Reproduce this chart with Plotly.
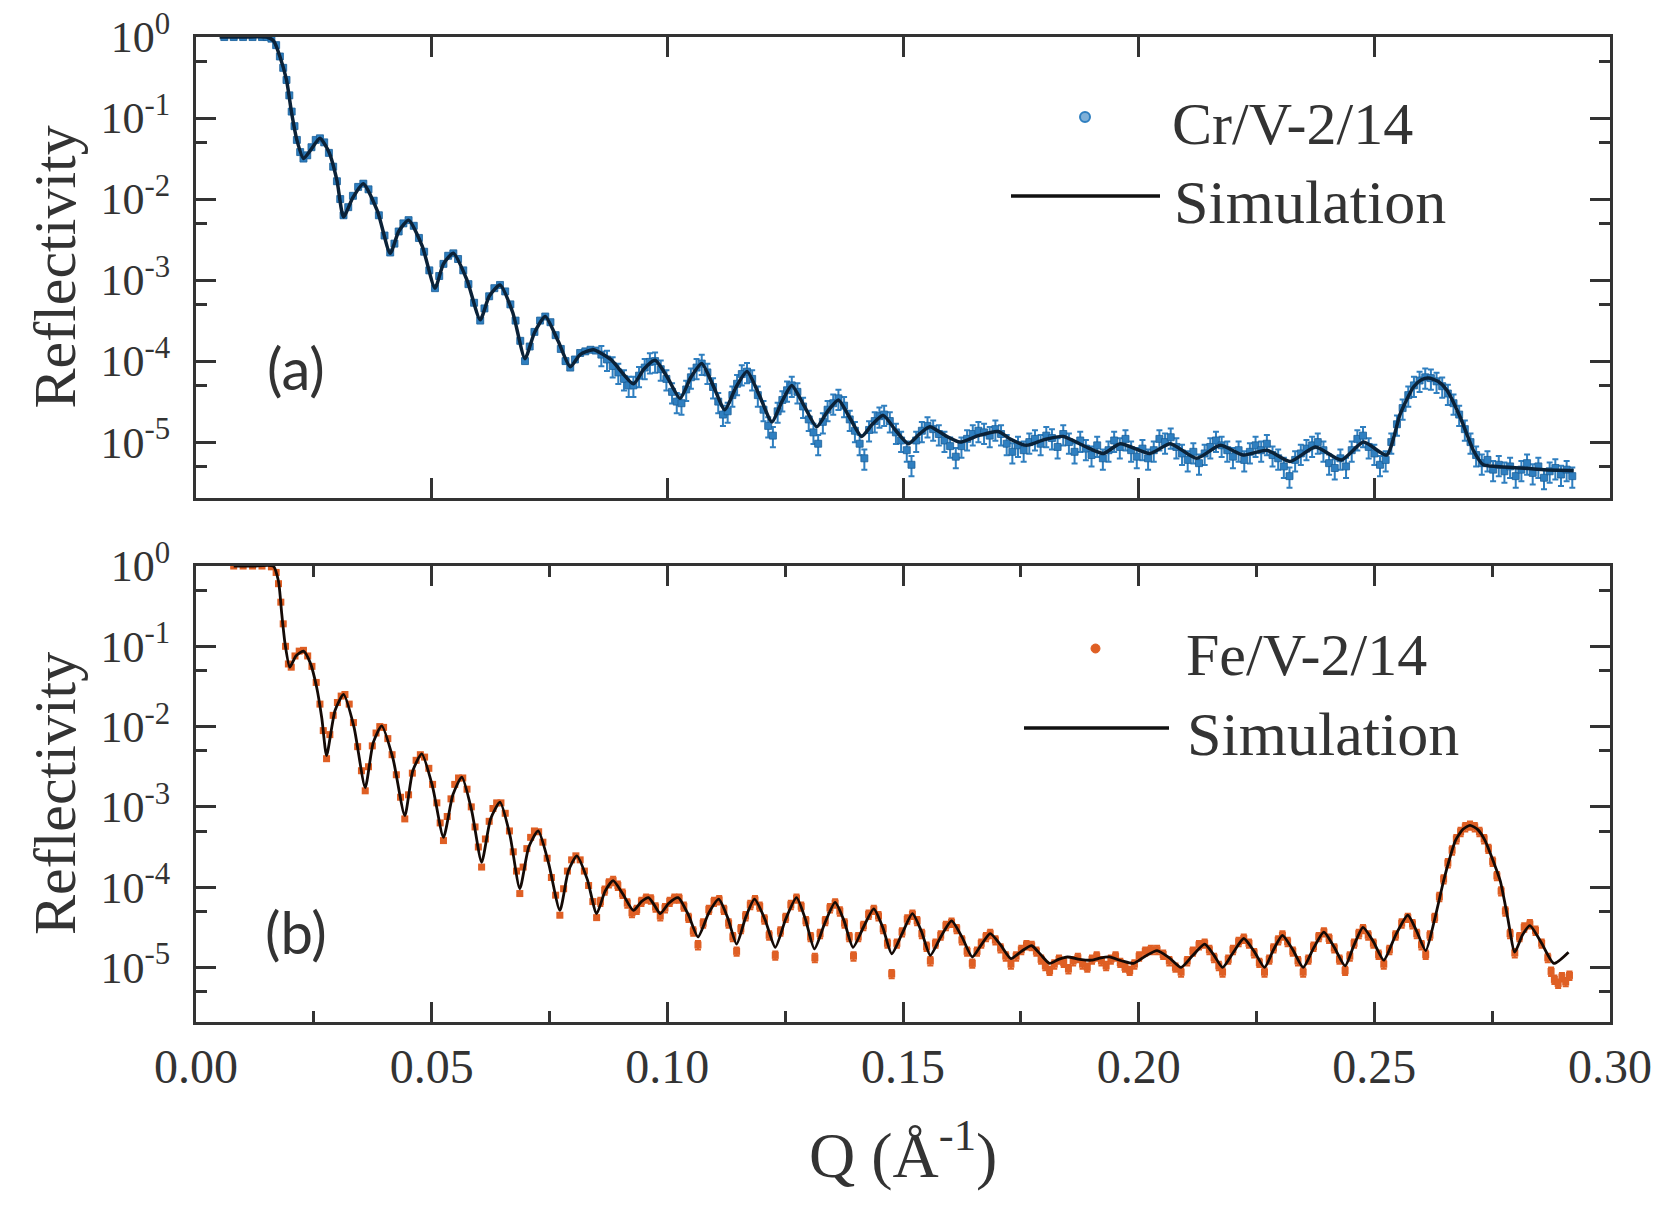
import plotly.graph_objects as go

# ---------------- Panel (a): Cr/V-2/14 ----------------
# simulation curve (Q in 1/A, log10 reflectivity)
q_sim_cr = [0.005, 0.010, 0.015, 0.0165, 0.0178, 0.0192, 0.0203, 0.0214, 0.0228, 0.0245, 0.0263, 0.0282,
            0.0299, 0.0313, 0.0333, 0.0355, 0.0385, 0.0412, 0.0430, 0.0451, 0.0480, 0.0507, 0.0525, 0.0546,
            0.0575, 0.0603, 0.0622, 0.0645, 0.0672, 0.0698, 0.0718, 0.0741, 0.0768, 0.0794, 0.0815, 0.0843,
            0.0880, 0.0928, 0.0950, 0.0974, 0.1000, 0.1027, 0.1050, 0.1073, 0.1097, 0.1122, 0.1145, 0.1169,
            0.1195, 0.1222, 0.1243, 0.1264, 0.1290, 0.1317, 0.1340, 0.1363, 0.1387, 0.1412, 0.1435, 0.1458,
            0.1485, 0.1511, 0.1535, 0.1557, 0.1590, 0.1621, 0.1660, 0.1702, 0.1730, 0.1762, 0.1800, 0.1840,
            0.1885, 0.1925, 0.1961, 0.2024, 0.2067, 0.2123, 0.2173, 0.2222, 0.2272, 0.2321, 0.2375, 0.2430,
            0.2477, 0.2526, 0.2555, 0.2583, 0.2600, 0.2615, 0.2635, 0.2654, 0.2682, 0.2710, 0.2731, 0.2760,
            0.2809, 0.2860, 0.2923]
logr_sim_cr = [0.0, 0.0, 0.0, -0.05, -0.24, -0.53, -0.94, -1.27, -1.50, -1.38, -1.25, -1.42,
               -1.77, -2.22, -1.98, -1.81, -2.15, -2.67, -2.40, -2.26, -2.58, -3.10, -2.80, -2.67,
               -3.00, -3.49, -3.20, -3.06, -3.40, -3.97, -3.65, -3.45, -3.75, -4.07, -3.92, -3.86,
               -3.98, -4.28, -4.10, -3.99, -4.20, -4.46, -4.20, -4.03, -4.30, -4.60, -4.33, -4.13,
               -4.42, -4.75, -4.50, -4.30, -4.55, -4.81, -4.62, -4.48, -4.70, -4.93, -4.78, -4.67,
               -4.86, -5.02, -4.90, -4.81, -4.92, -5.00, -4.92, -4.87, -4.97, -5.04, -4.97, -4.93,
               -5.05, -5.14, -5.02, -5.14, -5.02, -5.20, -5.04, -5.16, -5.10, -5.24, -5.06, -5.22,
               -5.00, -5.16, -4.65, -4.32, -4.23, -4.21, -4.25, -4.36, -4.69, -5.10, -5.28, -5.30,
               -5.32, -5.34, -5.35]

# measured data
q_cr = [0.006, 0.008, 0.010, 0.012, 0.014, 0.015, 0.0160, 0.0170, 0.0178, 0.0185, 0.0192, 0.0198, 0.0203,
        0.0209, 0.0214, 0.0221, 0.0228, 0.0236, 0.0245, 0.0254, 0.0263, 0.0272, 0.0282, 0.0291, 0.0299,
        0.0306, 0.0313, 0.0323, 0.0333, 0.0344, 0.0355, 0.0366, 0.0377, 0.0388, 0.0400, 0.0412, 0.0421,
        0.0430, 0.0440, 0.0451, 0.0462, 0.0473, 0.0484, 0.0495, 0.0507, 0.0516, 0.0525, 0.0535, 0.0546,
        0.0556, 0.0567, 0.0578, 0.0590, 0.0603, 0.0612, 0.0622, 0.0633, 0.0645, 0.0656, 0.0667, 0.0678,
        0.0688, 0.0698, 0.0708, 0.0718, 0.0730, 0.0741, 0.0752, 0.0763, 0.0774, 0.0784, 0.0794, 0.0804,
        0.0815, 0.0826, 0.0837, 0.0848, 0.0860, 0.0872, 0.0884, 0.0896, 0.0908, 0.0918, 0.0928, 0.0940,
        0.0952, 0.0963, 0.0974, 0.0986, 0.0998, 0.1010, 0.1020, 0.1030, 0.1040, 0.1050, 0.1062, 0.1073,
        0.1085, 0.1097, 0.1108, 0.1118, 0.1128, 0.1138, 0.1148, 0.1158, 0.1169, 0.1180, 0.1192, 0.1204,
        0.1214, 0.1224, 0.1234, 0.1244, 0.1254, 0.1264, 0.1276, 0.1288, 0.1300, 0.1310, 0.1320, 0.1330,
        0.1340, 0.1352, 0.1363, 0.1375, 0.1387, 0.1398, 0.1408, 0.1418, 0.1428, 0.1440, 0.1450, 0.1460,
        0.1472, 0.1485, 0.1496, 0.1508, 0.1518, 0.1528, 0.1540, 0.1552, 0.1564, 0.1576, 0.1588, 0.1600,
        0.1612, 0.1624, 0.1636, 0.1648, 0.1660, 0.1672, 0.1684, 0.1696, 0.1708, 0.1720, 0.1732, 0.1744,
        0.1756, 0.1768, 0.1780, 0.1792, 0.1804, 0.1816, 0.1828, 0.1840, 0.1852, 0.1864, 0.1876, 0.1888,
        0.1900, 0.1912, 0.1924, 0.1936, 0.1948, 0.1960, 0.1972, 0.1984, 0.1996, 0.2008, 0.2020, 0.2032,
        0.2044, 0.2056, 0.2068, 0.2080, 0.2092, 0.2104, 0.2116, 0.2128, 0.2140, 0.2152, 0.2164, 0.2176,
        0.2188, 0.2200, 0.2212, 0.2224, 0.2236, 0.2248, 0.2260, 0.2272, 0.2284, 0.2296, 0.2308, 0.2320,
        0.2332, 0.2344, 0.2356, 0.2368, 0.2380, 0.2392, 0.2404, 0.2416, 0.2428, 0.2440, 0.2452, 0.2464,
        0.2476, 0.2488, 0.2500, 0.2512, 0.2524, 0.2536, 0.2548, 0.2560, 0.2572, 0.2584, 0.2596, 0.2608,
        0.2620, 0.2632, 0.2644, 0.2656, 0.2668, 0.2680, 0.2692, 0.2704, 0.2716, 0.2728, 0.2740, 0.2752,
        0.2764, 0.2776, 0.2788, 0.2800, 0.2812, 0.2824, 0.2836, 0.2848, 0.2860, 0.2872, 0.2884, 0.2896,
        0.2908, 0.2920]
logr_cr = [0.0, 0.0, 0.0, 0.0, 0.0, 0.0, -0.02, -0.10, -0.24, -0.38, -0.53, -0.72, -0.92,
           -1.10, -1.27, -1.42, -1.50, -1.46, -1.36, -1.27, -1.25, -1.30, -1.43, -1.60, -1.78,
           -2.00, -2.20, -2.10, -1.96, -1.85, -1.81, -1.88, -2.02, -2.20, -2.45, -2.66, -2.55,
           -2.40, -2.30, -2.26, -2.33, -2.48, -2.65, -2.88, -3.10, -2.95, -2.80, -2.70, -2.67,
           -2.74, -2.88, -3.05, -3.28, -3.50, -3.35, -3.20, -3.10, -3.06, -3.14, -3.30, -3.50,
           -3.75, -4.00, -3.82, -3.64, -3.50, -3.45, -3.52, -3.68, -3.85, -4.00, -4.08, -3.98,
           -3.90, -3.88, -3.86, -3.87, -3.92, -3.98, -4.06, -4.14, -4.22, -4.30, -4.30, -4.18,
           -4.08, -4.01, -4.00, -4.10, -4.22, -4.38, -4.50, -4.52, -4.35, -4.20, -4.08, -4.03,
           -4.14, -4.32, -4.50, -4.66, -4.62, -4.42, -4.28, -4.16, -4.13, -4.22, -4.42, -4.60,
           -4.80, -4.92, -4.62, -4.48, -4.36, -4.30, -4.38, -4.56, -4.72, -4.88, -5.02, -4.75,
           -4.60, -4.52, -4.46, -4.55, -4.72, -4.86, -5.02, -5.20, -4.85, -4.74, -4.68, -4.66,
           -4.74, -4.88, -4.98, -5.10, -5.28, -4.98, -4.86, -4.80, -4.84, -4.90, -4.98, -5.05,
           -5.18, -5.05, -4.96, -4.90, -4.86, -4.88, -4.92, -4.84, -4.90, -5.02, -5.12, -5.04,
           -5.10, -5.00, -4.96, -5.02, -4.92, -4.95, -5.06, -4.90, -5.00, -5.12, -4.98, -5.08,
           -5.16, -5.04, -5.20, -5.10, -4.98, -5.06, -4.96, -5.10, -5.18, -5.08, -5.20, -5.10,
           -4.96, -5.00, -4.94, -5.06, -5.14, -5.22, -5.12, -5.26, -5.14, -5.06, -4.98, -5.04,
           -5.10, -5.18, -5.10, -5.22, -5.12, -5.04, -5.10, -5.02, -5.16, -5.20, -5.30, -5.42,
           -5.22, -5.14, -5.08, -5.04, -5.00, -5.10, -5.26, -5.32, -5.20, -5.30, -5.10, -4.96,
           -4.92, -5.06, -5.14, -5.28, -5.22, -5.00, -4.78, -4.58, -4.42, -4.30, -4.24, -4.20,
           -4.21, -4.25, -4.31, -4.40, -4.52, -4.66, -4.84, -5.00, -5.16, -5.26, -5.22, -5.34,
           -5.28, -5.36, -5.30, -5.42, -5.34, -5.26, -5.38, -5.30, -5.44, -5.36, -5.32, -5.40,
           -5.34, -5.42]

# ---------------- Panel (b): Fe/V-2/14 ----------------
q_sim_fe = [0.008, 0.012, 0.0164, 0.0175, 0.0182, 0.0189, 0.0199, 0.0212, 0.0228, 0.0242, 0.0256, 0.0267,
            0.0277, 0.0295, 0.0313, 0.0335, 0.0359, 0.0376, 0.0394, 0.0418, 0.0443, 0.0460, 0.0479, 0.0502,
            0.0525, 0.0545, 0.0564, 0.0585, 0.0606, 0.0625, 0.0645, 0.0666, 0.0687, 0.0706, 0.0726, 0.0748,
            0.0772, 0.0790, 0.0808, 0.0830, 0.0850, 0.0868, 0.0885, 0.0905, 0.0928, 0.0945, 0.0960, 0.0972,
            0.0985, 0.1003, 0.1023, 0.1045, 0.1065, 0.1088, 0.1109, 0.1128, 0.1147, 0.1166, 0.1185, 0.1207,
            0.1229, 0.1251, 0.1274, 0.1293, 0.1312, 0.1334, 0.1356, 0.1375, 0.1394, 0.1416, 0.1438, 0.1457,
            0.1476, 0.1498, 0.1520, 0.1539, 0.1558, 0.1580, 0.1603, 0.1625, 0.1647, 0.1666, 0.1685, 0.1707,
            0.1729, 0.1751, 0.1773, 0.1792, 0.1811, 0.1830, 0.1849, 0.1875, 0.1900, 0.1920, 0.1938, 0.1965,
            0.1989, 0.2014, 0.2039, 0.2065, 0.2090, 0.2115, 0.2140, 0.2159, 0.2178, 0.2200, 0.2223, 0.2245,
            0.2267, 0.2286, 0.2305, 0.2327, 0.2349, 0.2371, 0.2393, 0.2415, 0.2438, 0.2457, 0.2476, 0.2498,
            0.2520, 0.2545, 0.2571, 0.2590, 0.2609, 0.2628, 0.2647, 0.2660, 0.2672, 0.2688, 0.2703, 0.2719,
            0.2735, 0.2750, 0.2767, 0.2782, 0.2798, 0.2814, 0.2830, 0.2855, 0.2881, 0.2912]
logr_sim_fe = [0.0, 0.0, 0.0, -0.19, -0.60, -0.97, -1.26, -1.12, -1.06, -1.20, -1.51, -1.90,
               -2.36, -1.80, -1.60, -2.00, -2.76, -2.20, -1.99, -2.40, -3.11, -2.55, -2.34, -2.75,
               -3.38, -2.85, -2.63, -3.05, -3.69, -3.15, -2.94, -3.35, -4.02, -3.50, -3.30, -3.70,
               -4.29, -3.80, -3.61, -3.90, -4.33, -4.05, -3.92, -4.08, -4.29, -4.18, -4.13, -4.22,
               -4.33, -4.20, -4.13, -4.35, -4.62, -4.32, -4.15, -4.38, -4.71, -4.38, -4.15, -4.40,
               -4.75, -4.40, -4.13, -4.40, -4.77, -4.45, -4.19, -4.42, -4.75, -4.50, -4.27, -4.50,
               -4.83, -4.58, -4.33, -4.55, -4.85, -4.62, -4.42, -4.62, -4.87, -4.72, -4.58, -4.72,
               -4.89, -4.80, -4.73, -4.84, -4.95, -4.90, -4.87, -4.90, -4.91, -4.88, -4.87, -4.92,
               -4.95, -4.86, -4.79, -4.88, -5.00, -4.85, -4.71, -4.84, -5.00, -4.82, -4.64, -4.80,
               -5.00, -4.78, -4.60, -4.78, -5.00, -4.76, -4.56, -4.75, -4.98, -4.72, -4.50, -4.68,
               -4.91, -4.60, -4.35, -4.55, -4.79, -4.40, -3.92, -3.64, -3.42, -3.28, -3.23, -3.28,
               -3.42, -3.64, -3.92, -4.35, -4.81, -4.60, -4.48, -4.70, -4.95, -4.81]

q_fe = [0.0080, 0.0100, 0.0120, 0.0140, 0.0160, 0.0170, 0.0175, 0.0180, 0.0185, 0.0190, 0.0196, 0.0202,
        0.0210, 0.0219, 0.0228, 0.0237, 0.0246, 0.0255, 0.0263, 0.0270, 0.0277, 0.0284, 0.0291, 0.0300,
        0.0308, 0.0316, 0.0325, 0.0334, 0.0343, 0.0351, 0.0359, 0.0366, 0.0374, 0.0382, 0.0390, 0.0398,
        0.0407, 0.0416, 0.0425, 0.0434, 0.0443, 0.0451, 0.0459, 0.0467, 0.0476, 0.0485, 0.0494, 0.0502,
        0.0511, 0.0518, 0.0525, 0.0533, 0.0541, 0.0549, 0.0557, 0.0566, 0.0575, 0.0584, 0.0592, 0.0599,
        0.0606, 0.0614, 0.0622, 0.0630, 0.0638, 0.0647, 0.0656, 0.0665, 0.0673, 0.0680, 0.0687, 0.0694,
        0.0702, 0.0710, 0.0718, 0.0727, 0.0736, 0.0745, 0.0754, 0.0763, 0.0772, 0.0780, 0.0788, 0.0797,
        0.0806, 0.0815, 0.0824, 0.0833, 0.0842, 0.0850, 0.0858, 0.0867, 0.0876, 0.0885, 0.0895, 0.0905,
        0.0915, 0.0925, 0.0935, 0.0945, 0.0955, 0.0965, 0.0975, 0.0985, 0.0995, 0.1005, 0.1015, 0.1025,
        0.1035, 0.1045, 0.1055, 0.1065, 0.1076, 0.1088, 0.1099, 0.1110, 0.1120, 0.1130, 0.1139, 0.1147,
        0.1156, 0.1166, 0.1176, 0.1186, 0.1196, 0.1206, 0.1216, 0.1229, 0.1240, 0.1251, 0.1262, 0.1274,
        0.1284, 0.1294, 0.1304, 0.1313, 0.1324, 0.1335, 0.1345, 0.1356, 0.1366, 0.1376, 0.1386, 0.1395,
        0.1405, 0.1416, 0.1427, 0.1438, 0.1448, 0.1458, 0.1467, 0.1476, 0.1487, 0.1498, 0.1509, 0.1520,
        0.1530, 0.1540, 0.1550, 0.1558, 0.1569, 0.1580, 0.1591, 0.1603, 0.1614, 0.1625, 0.1636, 0.1647,
        0.1657, 0.1666, 0.1676, 0.1685, 0.1696, 0.1707, 0.1718, 0.1729, 0.1740, 0.1751, 0.1762, 0.1773,
        0.1783, 0.1793, 0.1802, 0.1811, 0.1821, 0.1831, 0.1841, 0.1851, 0.1861, 0.1871, 0.1881, 0.1891,
        0.1901, 0.1911, 0.1921, 0.1931, 0.1941, 0.1951, 0.1961, 0.1971, 0.1981, 0.1991, 0.2001, 0.2014,
        0.2026, 0.2039, 0.2052, 0.2065, 0.2078, 0.2090, 0.2103, 0.2115, 0.2128, 0.2140, 0.2150, 0.2160,
        0.2170, 0.2178, 0.2190, 0.2200, 0.2212, 0.2223, 0.2234, 0.2245, 0.2256, 0.2267, 0.2277, 0.2286,
        0.2296, 0.2305, 0.2316, 0.2327, 0.2338, 0.2349, 0.2360, 0.2371, 0.2382, 0.2393, 0.2404, 0.2415,
        0.2426, 0.2438, 0.2448, 0.2457, 0.2467, 0.2476, 0.2487, 0.2498, 0.2509, 0.2520, 0.2532, 0.2545,
        0.2558, 0.2571, 0.2581, 0.2590, 0.2600, 0.2609, 0.2618, 0.2628, 0.2638, 0.2647, 0.2656, 0.2665,
        0.2674, 0.2683, 0.2693, 0.2703, 0.2713, 0.2723, 0.2733, 0.2742, 0.2751, 0.2760, 0.2769, 0.2778,
        0.2788, 0.2798, 0.2808, 0.2818, 0.2830, 0.2842, 0.2855, 0.2868, 0.2875, 0.2882, 0.2890, 0.2898,
        0.2906, 0.2914]
logr_fe = [0.0, 0.0, 0.0, 0.0, -0.01, -0.08, -0.22, -0.45, -0.72, -1.00, -1.22, -1.26,
           -1.12, -1.06, -1.05, -1.12, -1.25, -1.45, -1.72, -2.05, -2.40, -2.10, -1.86, -1.70,
           -1.62, -1.60, -1.72, -1.95, -2.25, -2.55, -2.80, -2.50, -2.24, -2.08, -2.00, -2.01,
           -2.15, -2.35, -2.60, -2.88, -3.15, -2.85, -2.58, -2.42, -2.35, -2.38, -2.52, -2.72,
           -2.95, -3.20, -3.42, -3.12, -2.90, -2.72, -2.64, -2.64, -2.78, -3.00, -3.25, -3.50,
           -3.75, -3.40, -3.18, -3.02, -2.95, -2.95, -3.08, -3.30, -3.56, -3.80, -4.08, -3.75,
           -3.52, -3.38, -3.30, -3.31, -3.44, -3.64, -3.88, -4.10, -4.35, -4.02, -3.80, -3.66,
           -3.61, -3.66, -3.80, -3.98, -4.18, -4.38, -4.18, -4.04, -3.95, -3.92, -3.98, -4.08,
           -4.20, -4.32, -4.28, -4.18, -4.14, -4.15, -4.25, -4.36, -4.26, -4.18, -4.14, -4.14,
           -4.24, -4.38, -4.55, -4.72, -4.45, -4.28, -4.18, -4.16, -4.28, -4.45, -4.62, -4.80,
           -4.52, -4.36, -4.22, -4.16, -4.24, -4.40, -4.60, -4.85, -4.55, -4.38, -4.22, -4.14,
           -4.24, -4.42, -4.62, -4.88, -4.58, -4.42, -4.26, -4.20, -4.30, -4.45, -4.62, -4.86,
           -4.62, -4.48, -4.34, -4.28, -4.36, -4.52, -4.70, -5.08, -4.70, -4.56, -4.40, -4.34,
           -4.42, -4.58, -4.74, -4.92, -4.70, -4.60, -4.48, -4.44, -4.52, -4.66, -4.80, -4.95,
           -4.80, -4.70, -4.62, -4.58, -4.66, -4.76, -4.86, -4.96, -4.86, -4.78, -4.72, -4.73,
           -4.80, -4.90, -4.98, -5.04, -4.96, -4.90, -4.94, -5.02, -4.92, -4.88, -4.96, -5.00,
           -4.90, -4.86, -4.92, -4.98, -4.90, -4.86, -4.94, -5.00, -5.04, -4.96, -4.86, -4.80,
           -4.78, -4.78, -4.84, -4.92, -5.00, -5.06, -4.92, -4.80, -4.72, -4.70, -4.78, -4.88,
           -4.98, -5.06, -4.90, -4.78, -4.68, -4.64, -4.70, -4.82, -4.94, -5.06, -4.90, -4.76,
           -4.66, -4.60, -4.68, -4.80, -4.92, -5.06, -4.90, -4.74, -4.62, -4.56, -4.64, -4.76,
           -4.90, -5.04, -4.86, -4.70, -4.58, -4.52, -4.60, -4.70, -4.84, -4.96, -4.78, -4.60,
           -4.45, -4.38, -4.46, -4.58, -4.72, -4.84, -4.60, -4.38, -4.12, -3.90, -3.70, -3.54,
           -3.40, -3.31, -3.25, -3.23, -3.25, -3.31, -3.40, -3.52, -3.68, -3.86, -4.05, -4.30,
           -4.58, -4.82, -4.62, -4.50, -4.46, -4.54, -4.70, -4.88, -5.05, -5.15, -5.20, -5.12,
           -5.18, -5.10]

# tick labels
x_tickvals = [0.00, 0.05, 0.10, 0.15, 0.20, 0.25, 0.30]
y_tickvals = [1, 1e-1, 1e-2, 1e-3, 1e-4, 1e-5]
y_ticktext = ["10<sup>0</sup>", "10<sup>-1</sup>", "10<sup>-2</sup>", "10<sup>-3</sup>",
              "10<sup>-4</sup>", "10<sup>-5</sup>"]
y_minorvals = [0.5, 0.05, 0.005, 5e-4, 5e-5, 5e-6]

# ---------------- styling ----------------
PAGE_W, PAGE_H = 1661, 1205
OFF = 8                          # page body margin in the browser
W, H = PAGE_W - OFF, PAGE_H - OFF
PX0, PX1 = 196, 1610            # plot area left/right (page px)
TOP_Y0, TOP_Y1 = 37, 498        # top panel top/bottom (page px)
BOT_Y0, BOT_Y1 = 566, 1022      # bottom panel top/bottom (page px)
AX = "#333333"
SERIF = "Liberation Serif, Times New Roman, serif"
SANS = "Lato, Open Sans, sans-serif"
BLUE = "#2f7fc0"
ORANGE = "#df5f24"


def fx(px):
    return (px - OFF) / W


def fy(py):
    return 1 - (py - OFF) / H


r_sim_cr = [10 ** v for v in logr_sim_cr]
r_cr = [10 ** v for v in logr_cr]
r_sim_fe = [10 ** v for v in logr_sim_fe]
r_fe = [10 ** v for v in logr_fe]
err_cr = [r * (0.28 if q > 0.085 else 0.06) for q, r in zip(q_cr, r_cr)]
err_fe = [r * (0.12 if q > 0.085 else 0.04) for q, r in zip(q_fe, r_fe)]

fig = go.Figure()
fig.add_trace(go.Scatter(
    x=q_cr, y=r_cr, mode="markers", name="Cr/V-2/14", xaxis="x", yaxis="y",
    marker=dict(symbol="square", size=7, color=BLUE, line=dict(width=0.8, color="#1a5f99")),
    error_y=dict(type="data", array=err_cr, visible=True, color=BLUE, thickness=2, width=3),
    showlegend=False))
fig.add_trace(go.Scatter(
    x=q_sim_cr, y=r_sim_cr, mode="lines", name="Simulation", xaxis="x", yaxis="y",
    line=dict(color="#0b2238", width=3.5, shape="spline", smoothing=0.6), showlegend=False))
fig.add_trace(go.Scatter(
    x=q_fe, y=r_fe, mode="markers", name="Fe/V-2/14", xaxis="x2", yaxis="y2",
    marker=dict(symbol="square", size=7, color=ORANGE, line=dict(width=0)),
    error_y=dict(type="data", array=err_fe, visible=True, color=ORANGE, thickness=2, width=3),
    showlegend=False))
fig.add_trace(go.Scatter(
    x=q_sim_fe, y=r_sim_fe, mode="lines", name="Simulation", xaxis="x2", yaxis="y2",
    line=dict(color="#140a06", width=2.8, shape="spline", smoothing=0.6), showlegend=False))

common_x = dict(range=[0, 0.30], domain=[fx(PX0), fx(PX1)], showline=True, linecolor=AX, linewidth=3,
                mirror="ticks", ticks="inside", ticklen=20, tickwidth=3, tickcolor=AX,
                tickmode="array", tickvals=x_tickvals, showgrid=False, zeroline=False, automargin=False,
                ticklabeloverflow="allow")
common_y = dict(type="log", showline=True, linecolor=AX, linewidth=3, mirror="ticks", ticks="inside",
                ticklen=20, tickwidth=3, tickcolor=AX, tickmode="array", tickvals=y_tickvals,
                ticktext=y_ticktext, showgrid=False, zeroline=False, automargin=False,
                ticklabeloverflow="allow",
                tickfont=dict(family=SERIF, size=44, color=AX), ticklabelstandoff=14,
                minor=dict(ticks="inside", ticklen=11, tickwidth=3, tickcolor=AX,
                           tickmode="array", tickvals=y_minorvals, showgrid=False))

fig.update_layout(
    width=W, height=H, margin=dict(l=0, r=0, t=0, b=0, autoexpand=False),
    paper_bgcolor="white", plot_bgcolor="white", showlegend=False,
    xaxis=dict(common_x, anchor="y", showticklabels=False),
    xaxis2=dict(common_x, anchor="y2", matches="x", showticklabels=True, tickformat=".2f",
                tickfont=dict(family=SERIF, size=48, color=AX), ticklabelstandoff=0,
                minor=dict(ticks="inside", ticklen=11, tickwidth=3, tickcolor=AX,
                           tickmode="array", tickvals=[0.025, 0.075, 0.125, 0.175, 0.225, 0.275],
                           showgrid=False)),
    yaxis=dict(common_y, anchor="x", range=[-5.69, 0.0005], domain=[fy(TOP_Y1), fy(TOP_Y0)]),
    yaxis2=dict(common_y, anchor="x2", range=[-5.68, 0.0005], domain=[fy(BOT_Y1), fy(BOT_Y0)]),
)

annotations = [
    # axis titles
    dict(text="Reflectivity", x=fx(55), y=fy((TOP_Y0 + TOP_Y1) / 2), textangle=-90),
    dict(text="Reflectivity", x=fx(55), y=fy((BOT_Y0 + BOT_Y1) / 2), textangle=-90),
    dict(text="Q (Å<sup>-1</sup>)", x=fx(903), y=fy(1150), font=dict(family=SERIF, size=64, color=AX)),
    # legend texts
    dict(text="Cr/V-2/14", x=fx(1170), y=fy(124), xanchor="left", font=dict(family=SERIF, size=60, color=AX)),
    dict(text="Simulation", x=fx(1172), y=fy(202), xanchor="left", font=dict(family=SERIF, size=62, color=AX)),
    dict(text="Fe/V-2/14", x=fx(1184), y=fy(655), xanchor="left", font=dict(family=SERIF, size=60, color=AX)),
    dict(text="Simulation", x=fx(1185), y=fy(734), xanchor="left", font=dict(family=SERIF, size=62, color=AX)),
]
for a in annotations:
    a.setdefault("xref", "paper")
    a.setdefault("yref", "paper")
    a.setdefault("xanchor", "center")
    a.setdefault("yanchor", "middle")
    a.setdefault("showarrow", False)
    a.setdefault("font", dict(family=SERIF, size=60, color=AX))
fig.update_layout(annotations=annotations)

# panel labels
fig.add_annotation(text="(a)", x=0.0212, y=-4.08, xref="x", yref="y", showarrow=False,
                   font=dict(family=SANS, size=58, color=AX))
fig.add_annotation(text="(b)", x=0.0212, y=-4.55, xref="x2", yref="y2", showarrow=False,
                   font=dict(family=SANS, size=58, color=AX))

# legend symbols
shapes = [
    dict(type="line", x0=fx(1011), x1=fx(1160), y0=fy(196), y1=fy(196), line=dict(color="#111111", width=3.5)),
    dict(type="line", x0=fx(1024), x1=fx(1169), y0=fy(728), y1=fy(728), line=dict(color="#111111", width=3.5)),
    dict(type="circle", x0=fx(1080), x1=fx(1090), y0=fy(122), y1=fy(112),
         fillcolor="#7fb0d8", line=dict(color=BLUE, width=2)),
    dict(type="circle", x0=fx(1091), x1=fx(1100), y0=fy(653), y1=fy(644),
         fillcolor=ORANGE, line=dict(color=ORANGE, width=1)),
]
for s in shapes:
    s["xref"] = "paper"
    s["yref"] = "paper"
fig.update_layout(shapes=shapes)

fig.write_html("out.html")
